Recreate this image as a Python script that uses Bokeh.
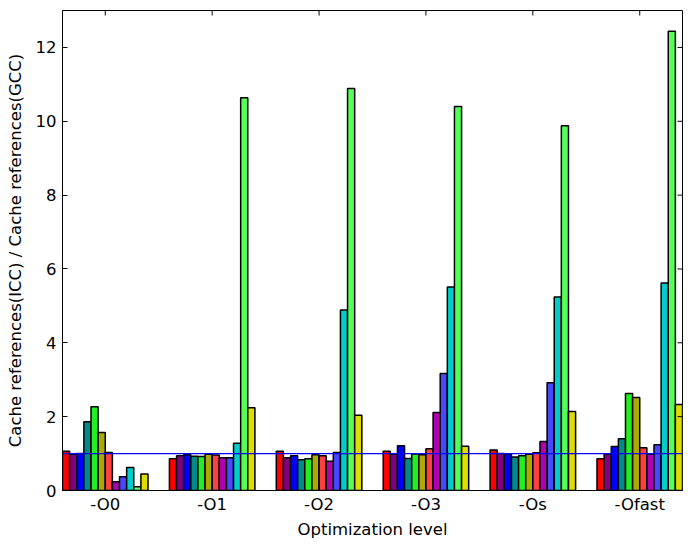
import numpy as np
from bokeh.plotting import figure
from bokeh.models import FixedTicker, Span, Range1d, ColumnDataSource
from bokeh.embed import file_html
from bokeh.resources import INLINE

levels = ["-O0", "-O1", "-O2", "-O3", "-Os", "-Ofast"]
y_ticks = [0, 2, 4, 6, 8, 10, 12]

# 12 benchmark series per optimization level (ICC/GCC ratio)
o0 = [1.06, 0.98, 1.00, 1.86, 2.27, 1.57, 1.03, 0.24, 0.37, 0.62, 0.10, 0.45]
o1 = [0.86, 0.94, 0.97, 0.93, 0.92, 0.98, 0.96, 0.89, 0.89, 1.28, 10.64, 2.24]
o2 = [1.06, 0.89, 0.94, 0.83, 0.86, 0.97, 0.94, 0.79, 1.03, 4.89, 10.89, 2.04]
o3 = [1.06, 0.98, 1.21, 0.87, 0.99, 0.97, 1.13, 2.11, 3.17, 5.51, 10.40, 1.20]
os_ = [1.10, 1.00, 0.99, 0.91, 0.94, 0.98, 1.02, 1.33, 2.92, 5.24, 9.88, 2.14]
ofast = [0.86, 0.99, 1.19, 1.40, 2.63, 2.52, 1.16, 0.98, 1.24, 5.62, 12.44, 2.33]
values = [o0, o1, o2, o3, os_, ofast]

colors = ["#ff0000", "#800080", "#0000ff", "#008b8b", "#22f022", "#aaaa00",
          "#ff4040", "#b000b0", "#4848ff", "#00cccc", "#55ff55", "#dddd00"]

n = len(colors)
w = 0.8 / n
x0, x1 = -0.4, len(levels) - 0.6
y0, y1 = 0, 13
left, right, top, fill = [], [], [], []
for g, vals in enumerate(values):
    for i, v in enumerate(vals):
        l = g - 0.4 + i * w
        left.append(l)
        right.append(l + w)
        top.append(v)
        fill.append(colors[i])
src = ColumnDataSource(dict(left=left, right=right, top=top, bottom=[0] * len(top), fill=fill))

p = figure(width=691, height=548, output_backend="svg", toolbar_location=None,
           x_range=Range1d(x0, x1), y_range=Range1d(y0, y1),
           min_border_left=62, min_border_right=9, min_border_top=10, min_border_bottom=58)
p.quad(left="left", right="right", top="top", bottom="bottom", source=src,
       fill_color="fill", line_color="black", line_width=1.5)

p.add_layout(Span(location=1, dimension="width", line_color="#0000ff", line_width=1.2))

# mirrored inward ticks on top and right edges
xt = list(range(len(levels)))
p.ray(x=xt, y=[y1] * len(xt), length=5, length_units="screen", angle=-np.pi / 2,
      line_color="black", line_width=1)
p.ray(x=[x1] * len(y_ticks), y=y_ticks, length=5, length_units="screen", angle=np.pi,
      line_color="black", line_width=1)

p.xgrid.visible = False
p.ygrid.visible = False
p.outline_line_color = "black"
p.outline_line_width = 1
p.background_fill_color = "white"
p.border_fill_color = "white"

font = "DejaVu Sans"
xa = p.xaxis[0]
xa.ticker = FixedTicker(ticks=xt)
xa.major_label_overrides = {i: lab for i, lab in enumerate(levels)}
xa.axis_label = "Optimization level"
ya = p.yaxis[0]
ya.ticker = FixedTicker(ticks=y_ticks)
ya.axis_label = "Cache references(ICC) / Cache references(GCC)"
for ax in (xa, ya):
    ax.major_label_text_font = font
    ax.major_label_text_font_size = "16.5px"
    ax.major_label_text_color = "black"
    ax.axis_label_text_font = font
    ax.axis_label_text_font_size = "16.5px"
    ax.axis_label_text_font_style = "normal"
    ax.axis_label_text_color = "black"
    ax.axis_line_color = "black"
    ax.major_tick_line_color = "black"
    ax.major_tick_in = 5
    ax.major_tick_out = 0
    ax.minor_tick_line_color = None
xa.major_label_standoff = 4
ya.major_label_standoff = 6
xa.axis_label_standoff = 3
ya.axis_label_standoff = 8

open("out.html", "w").write(file_html(p, INLINE))
